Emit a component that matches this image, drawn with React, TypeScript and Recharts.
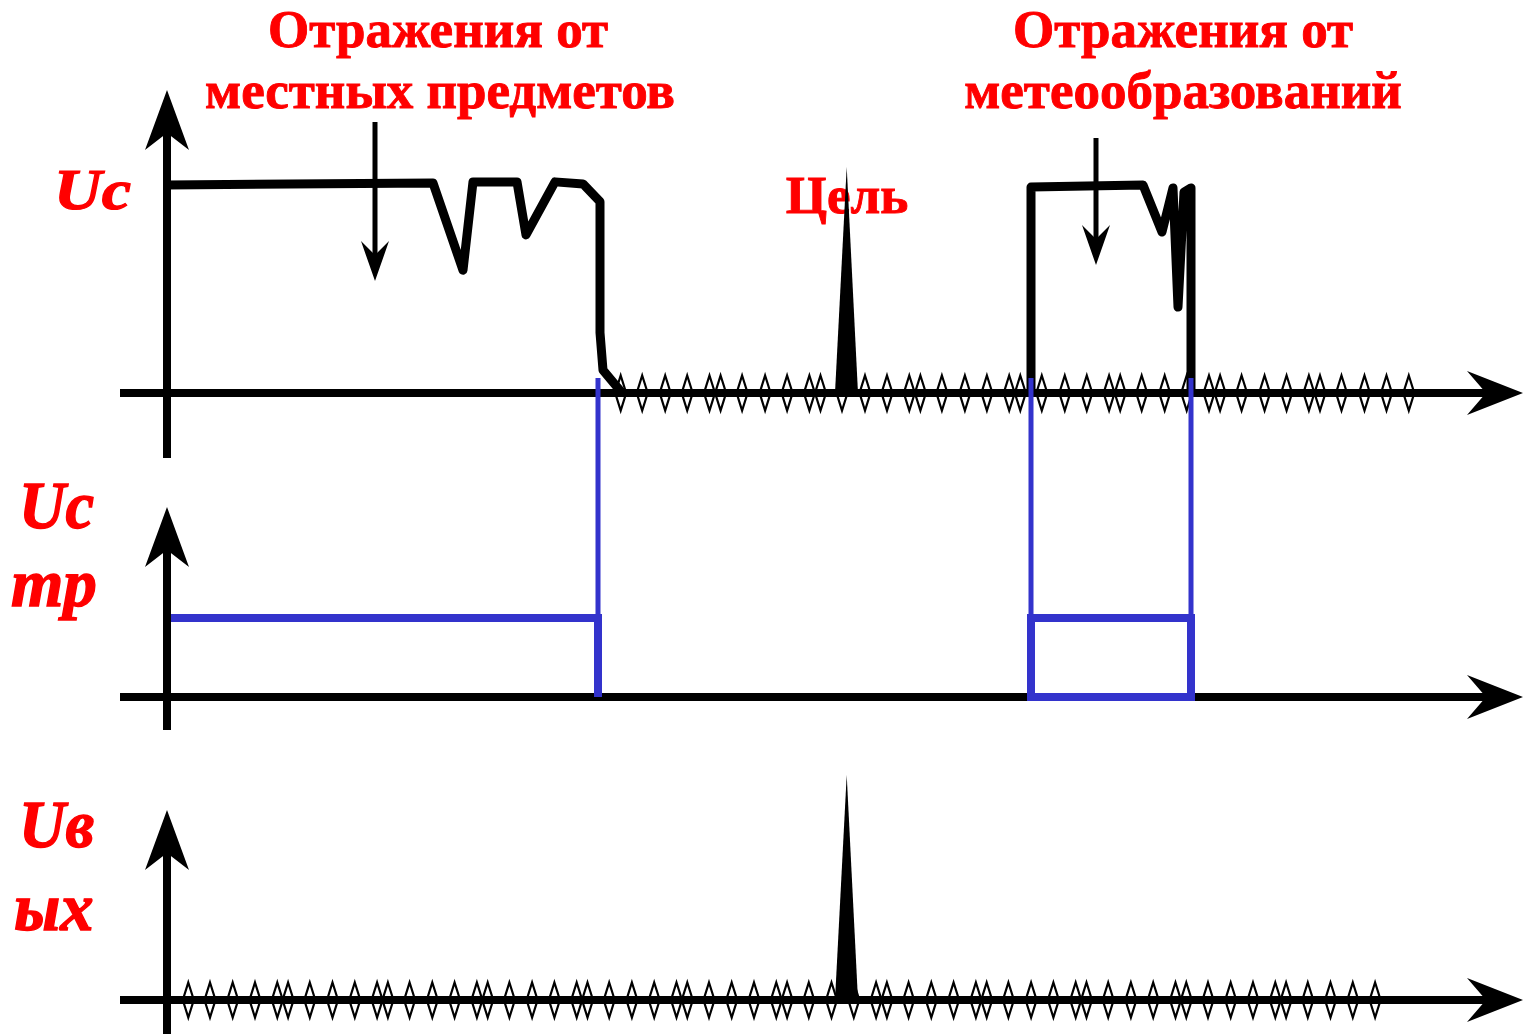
import React from 'react';
import { ComposedChart, Line, Area, Scatter, XAxis, YAxis, ReferenceLine } from 'recharts';

// ---------- data (time t, amplitude u) ----------
// Input signal Uc: reflections from local objects (ground clutter)
const CLUTTER_T = [0, 26.6, 29.6, 30.6, 35.0, 35.9, 38.8, 41.6, 43.3, 43.3, 43.6, 45.5];
const CLUTTER_U = [100, 101, 59, 101.5, 101.5, 76, 101.5, 100.5, 92, 29, 11, 0];
// Input signal Uc: reflections from weather formations
const WEATHER_T = [86.4, 86.4, 97.6, 99.5, 100.6, 101.1, 101.7, 102.4, 102.4];
const WEATHER_U = [0, 99, 100, 77.4, 98.6, 41.3, 96.6, 98.6, 0];
// Target pulse (input and output)
const TARGET_T = [66.8, 67.97, 69.1];
const TARGET_IN_U = [0, 108.7, 0];
const TARGET_OUT_U = [0, 108.2, 0];
// Gating signal Uc тр
const GATE1_T = [0, 43.1, 43.1];
const GATE1_U = [100, 100, 0];
const GATE2_T = [86.4, 86.4, 102.4, 102.4, 86.4];
const GATE2_U = [0, 100, 100, 0, 0];
// Noise spikes positions
const NOISE_IN_T = [
  45.37, 47.52, 49.82, 52.02, 54.25,
  55.36, 57.51, 59.81, 62.01, 64.24,
  65.35, 67.5, 69.8, 72.0, 74.23,
  75.34, 77.49, 79.79, 81.99, 84.22,
  85.33, 87.48, 89.78, 91.98, 94.21,
  95.32, 97.47, 99.77, 101.97, 104.2,
  105.31, 107.46, 109.76, 111.96, 114.19,
  115.3, 117.45, 119.75, 121.95, 124.18,
];
const NOISE_OUT_T = [
  2.13, 4.3, 6.57, 8.8, 11.03,
  12.11, 14.28, 16.55, 18.78, 21.01,
  22.09, 24.26, 26.53, 28.76, 30.99,
  32.07, 34.24, 36.51, 38.74, 40.97,
  42.05, 44.22, 46.49, 48.72, 50.95,
  52.03, 54.2, 56.47, 58.7, 60.93,
  62.01, 64.18, 66.45, 68.68, 70.91,
  71.99, 74.16, 76.43, 78.66, 80.89,
  81.97, 84.14, 86.41, 88.64, 90.87,
  91.95, 94.12, 96.39, 98.62, 100.85,
  101.93, 104.1, 106.37, 108.6, 110.83,
  111.91, 114.08, 116.35, 118.58, 120.81,
];
// Annotation arrows: [t, uFrom, uTo]
const ARROW_CLUTTER = [20.8, 130.3, 53.8];
const ARROW_WEATHER = [92.9, 122.6, 61.5];

// ---------- layout ----------
const W = 1527;
const H = 1034;
const X_DOMAIN: [number, number] = [-16.7, 136];
const TOP_DOMAIN: [number, number] = [-308.17, 188.94];
const MID_DOMAIN: [number, number] = [-426.58, 882.28];
const BOT_DOMAIN: [number, number] = [-16.35, 480.77];
const AXIS_X_START = -4.7;
const AXIS_X_END = 135.6;
const BLUE = '#3333cc';
const RED = '#ff0000';

const pts = (ts: number[], us: number[]) => ts.map((t, i) => ({ t, a: us[i] }));
const zeroPts = (ts: number[]) => ts.map((t) => ({ t, a: 0 }));

type Head = { len: number; notch: number; half: number };

function arrowShape(head: Head, color: string, width: number) {
  return (p: any) => {
    const { x1, y1, x2, y2 } = p;
    const dx = x2 - x1;
    const dy = y2 - y1;
    const d = Math.hypot(dx, dy) || 1;
    const ux = dx / d;
    const uy = dy / d;
    const nx = -uy;
    const ny = ux;
    const bx = x2 - ux * head.len;
    const by = y2 - uy * head.len;
    const mx = x2 - ux * head.notch;
    const my = y2 - uy * head.notch;
    const poly = [
      [x2, y2],
      [bx + nx * head.half, by + ny * head.half],
      [mx, my],
      [bx - nx * head.half, by - ny * head.half],
    ]
      .map((q) => `${q[0]},${q[1]}`)
      .join(' ');
    return (
      <g>
        <line x1={x1} y1={y1} x2={mx + ux * 2} y2={my + uy * 2} stroke={color} strokeWidth={width} />
        <polygon points={poly} fill={color} />
      </g>
    );
  };
}

function plainShape(color: string, width: number) {
  return (p: any) => <line x1={p.x1} y1={p.y1} x2={p.x2} y2={p.y2} stroke={color} strokeWidth={width} />;
}

const Diamond = (p: any) => {
  const { cx, cy } = p;
  return (
    <polygon
      points={`${cx},${cy - 17.5} ${cx + 5.5},${cy} ${cx},${cy + 17.5} ${cx - 5.5},${cy}`}
      fill="none"
      stroke="#000"
      strokeWidth={2.2}
    />
  );
};

const AX_H: Head = { len: 56, notch: 37, half: 22 };
const AX_V: Head = { len: 60, notch: 43, half: 22 };
const ANN: Head = { len: 40, notch: 26, half: 14 };

export default function App() {
  const axisX = (id: string) => (
    <ReferenceLine
      key={'ax' + id}
      yAxisId={id}
      segment={[{ x: AXIS_X_START, y: 0 }, { x: AXIS_X_END, y: 0 }]}
      ifOverflow="visible"
      shape={arrowShape(AX_H, '#000', 8)}
      zIndex={200}
    />
  );
  const axisY = (id: string, from: number, to: number) => (
    <ReferenceLine
      key={'ay' + id}
      yAxisId={id}
      segment={[{ x: 0, y: from }, { x: 0, y: to }]}
      ifOverflow="visible"
      shape={arrowShape(AX_V, '#000', 8)}
      zIndex={800}
    />
  );
  const connector = (t: number) => (
    <ReferenceLine
      key={'c' + t}
      yAxisId="mid"
      segment={[{ x: t, y: 0 }, { x: t, y: 403.8 }]}
      ifOverflow="visible"
      shape={plainShape(BLUE, 5)}
      zIndex={600}
    />
  );
  const annArrow = (a: number[]) => (
    <ReferenceLine
      key={'an' + a[0]}
      yAxisId="top"
      segment={[{ x: a[0], y: a[1] }, { x: a[0], y: a[2] }]}
      ifOverflow="visible"
      shape={arrowShape(ANN, '#000', 5)}
      zIndex={500}
    />
  );

  const labelFont = { fontFamily: '"Liberation Serif", "Times New Roman", serif', fontWeight: 700 };

  return (
    <div style={{ position: 'absolute', left: 0, top: 0, width: W, height: H, background: '#fff' }}>
      <svg width={W} height={H} style={{ position: 'absolute', left: 0, top: 0 }}>
        <g {...labelFont} fill={RED} stroke={RED} strokeWidth={0.9} fontSize={53} textAnchor="middle">
          <text x={438} y={47}>Отражения от</text>
          <text x={440} y={108}>местных предметов</text>
          <text x={1183} y={47}>Отражения от</text>
          <text x={1183} y={108}>метеообразований</text>
          <text x={847} y={213}>Цель</text>
        </g>
        <g {...labelFont} fill={RED} stroke={RED} strokeWidth={1.2} fontStyle="italic">
          <text transform="translate(54,209) scale(1.16,1)" fontSize={57}>Uc</text>
          <text transform="translate(19,528) scale(1.11,1.17)" fontSize={58}>Uc</text>
          <text transform="translate(11,606) scale(1.16,1.17)" fontSize={58}>тр</text>
          <text transform="translate(19,847) scale(1.11,1.17)" fontSize={58}>Uв</text>
          <text transform="translate(14,930) scale(1.15,1.17)" fontSize={58}>ых</text>
        </g>
      </svg>

      <div style={{ position: 'absolute', left: 0, top: 0 }}>
        <ComposedChart width={W} height={H} margin={{ top: 0, right: 0, bottom: 0, left: 0 }}>
          <XAxis dataKey="t" type="number" domain={X_DOMAIN} allowDataOverflow hide />
          <YAxis yAxisId="top" dataKey="a" type="number" domain={TOP_DOMAIN} allowDataOverflow hide />
          <YAxis yAxisId="mid" dataKey="a" type="number" domain={MID_DOMAIN} allowDataOverflow hide />
          <YAxis yAxisId="bot" dataKey="a" type="number" domain={BOT_DOMAIN} allowDataOverflow hide />

          <Scatter yAxisId="top" data={zeroPts(NOISE_IN_T)} dataKey="a" shape={Diamond} isAnimationActive={false} zIndex={100} />
          <Scatter yAxisId="bot" data={zeroPts(NOISE_OUT_T)} dataKey="a" shape={Diamond} isAnimationActive={false} zIndex={100} />

          {axisX('top')}
          {axisX('mid')}
          {axisX('bot')}

          <Area yAxisId="top" data={pts(TARGET_T, TARGET_IN_U)} dataKey="a" type="linear" baseValue={0} stroke="none" fill="#000" fillOpacity={1} dot={false} activeDot={false} isAnimationActive={false} zIndex={300} />
          <Area yAxisId="bot" data={pts(TARGET_T, TARGET_OUT_U)} dataKey="a" type="linear" baseValue={0} stroke="none" fill="#000" fillOpacity={1} dot={false} activeDot={false} isAnimationActive={false} zIndex={300} />

          <Line yAxisId="top" data={pts(CLUTTER_T, CLUTTER_U)} dataKey="a" type="linear" stroke="#000" strokeWidth={9} strokeLinejoin="round" dot={false} activeDot={false} isAnimationActive={false} zIndex={400} />
          <Line yAxisId="top" data={pts(WEATHER_T, WEATHER_U)} dataKey="a" type="linear" stroke="#000" strokeWidth={9} strokeLinejoin="round" dot={false} activeDot={false} isAnimationActive={false} zIndex={400} />

          {annArrow(ARROW_CLUTTER)}
          {annArrow(ARROW_WEATHER)}

          {connector(GATE1_T[1])}
          {connector(GATE2_T[0])}
          {connector(GATE2_T[2])}

          <Line yAxisId="mid" data={pts(GATE1_T, GATE1_U)} dataKey="a" type="linear" stroke={BLUE} strokeWidth={8} strokeLinecap="butt" strokeLinejoin="miter" dot={false} activeDot={false} isAnimationActive={false} zIndex={700} />
          <Line yAxisId="mid" data={pts(GATE2_T, GATE2_U)} dataKey="a" type="linear" stroke={BLUE} strokeWidth={8} strokeLinecap="square" strokeLinejoin="miter" dot={false} activeDot={false} isAnimationActive={false} zIndex={700} />

          {axisY('top', -31.25, 145.7)}
          {axisY('mid', -41.8, 240.5)}
          {axisY('bot', -16.35, 91.3)}
        </ComposedChart>
      </div>
    </div>
  );
}
